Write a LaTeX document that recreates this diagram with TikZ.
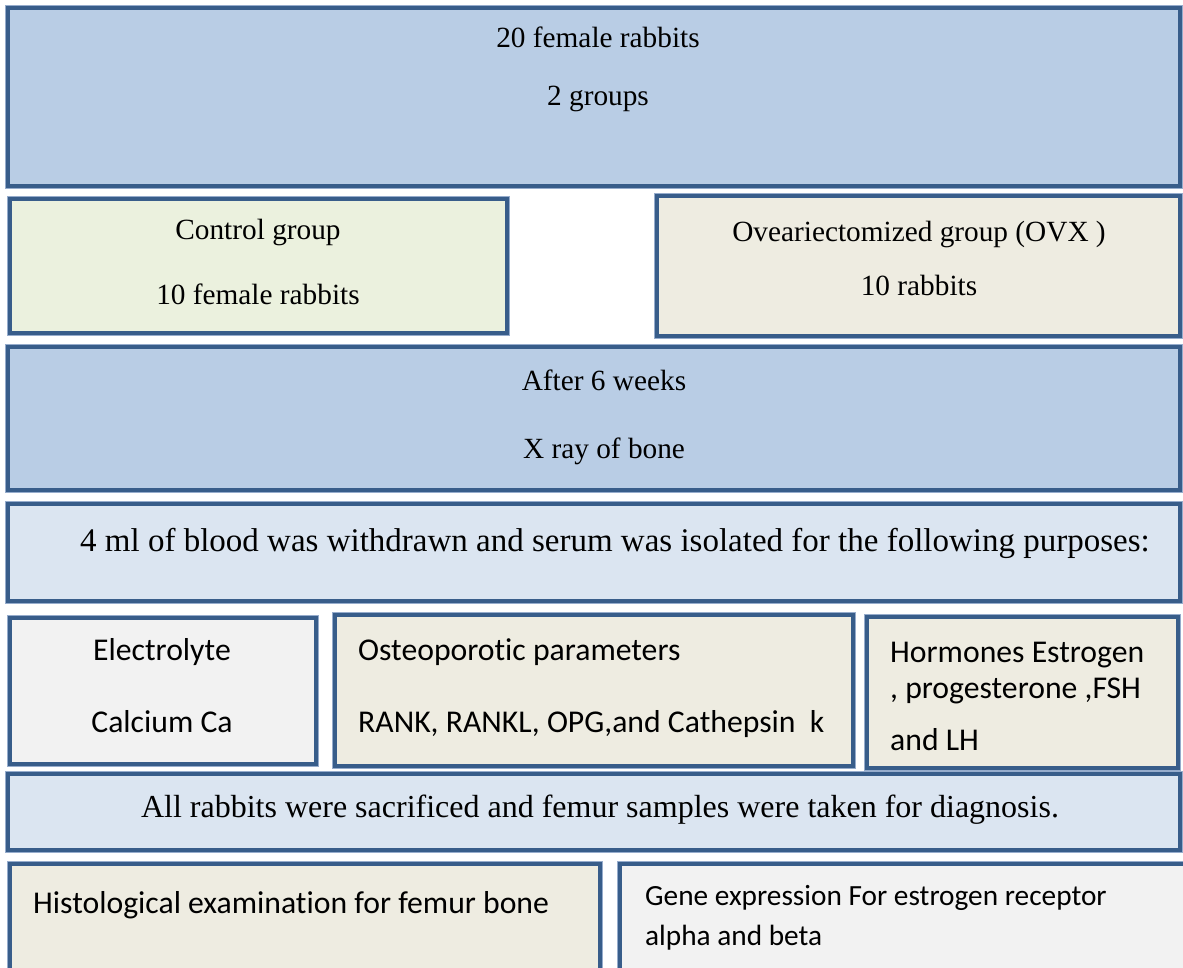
\documentclass[tikz,border=0pt]{standalone}
\usepackage{fontspec}
\setmainfont{Liberation Serif}
\newfontfamily\calibri[Ligatures=NoCommon]{Carlito}
\definecolor{edge}{RGB}{56,93,138}
\definecolor{rim}{RGB}{150,172,204}
\definecolor{blueA}{RGB}{185,205,229}
\definecolor{blueB}{RGB}{219,229,241}
\definecolor{greenA}{RGB}{235,241,222}
\definecolor{tanA}{RGB}{238,236,225}
\definecolor{greyA}{RGB}{242,242,242}
\begin{document}
\begin{tikzpicture}[x=1pt, y=-1pt,
    box/.style={draw=edge, line width=4.5pt, rectangle, anchor=north west, inner sep=0pt, outer sep=0pt,
        preaction={draw=rim, line width=6.5pt}},
    tnr/.style={font=\fontsize{29.3}{35}\selectfont, anchor=base, inner sep=0pt},
    cal/.style={font=\calibri\fontsize{31.7}{38}\selectfont, anchor=base west, inner sep=0pt}]
\clip (0,0) rectangle (1183,968);

\foreach \n/\x/\y/\w/\h/\c in {top/8/8/1172/178/blueA, ctrl/10/199/497/134/greenA,
    ovx/657/196/523/140/tanA, weeks/8/347/1172/143/blueA, blood/8/504/1172/97/blueB,
    elec/10/618/306/146/greyA, osteo/335/615/518/151/tanA, horm/867/617/311/151/tanA,
    sacr/8/774/1172/76/blueB, hist/10/864/590/140/tanA, gene/620/864/570/140/greyA}
{
    \node[box, fill=\c, minimum width=\w, minimum height=\h] (\n) at (\x,\y) {};
}

\node[tnr] (topa) at (598,48) {20 female rabbits};
\node[tnr] (topb) at (598,106) {2 groups};
\node[tnr] (ctrla) at (258,240) {Control group};
\node[tnr] (ctrlb) at (258,305) {10 female rabbits};
\node[tnr] (ovxa) at (919,242) {Oveariectomized group (OVX )};
\node[tnr] (ovxb) at (919,295) {10 rabbits};
\node[tnr] (weeksa) at (604,390) {After 6 weeks};
\node[tnr] (weeksb) at (604,458) {X ray of bone};
\node[tnr, font=\fontsize{33}{40}\selectfont] (blooda) at (615,551) {4 ml of blood was withdrawn and serum was isolated for the following purposes:};

\node[cal, anchor=base] (eleca) at (162,660) {Electrolyte};
\node[cal, anchor=base] (elecb) at (162,732) {Calcium Ca};
\node[cal] (osteoa) at (358,660) {Osteoporotic parameters};
\node[cal] (osteob) at (358,732) {RANK, RANKL, OPG,and Cathepsin\ \ k};
\node[cal] (horma) at (890,662) {Hormones Estrogen};
\node[cal] (hormb) at (890,698) {, progesterone ,FSH};
\node[cal] (hormc) at (890,750) {and LH};

\node[tnr, font=\fontsize{32}{38}\selectfont] (sacra) at (600,817) {All rabbits were sacrificed and femur samples were taken for diagnosis.};
\node[cal] (hista) at (33,913) {Histological examination for femur bone};
\node[cal, font=\calibri\fontsize{29.3}{35}\selectfont] (genea) at (645,905) {Gene expression For estrogen receptor};
\node[cal, font=\calibri\fontsize{29.3}{35}\selectfont] (geneb) at (645,945) {alpha and beta};
\end{tikzpicture}
\end{document}
